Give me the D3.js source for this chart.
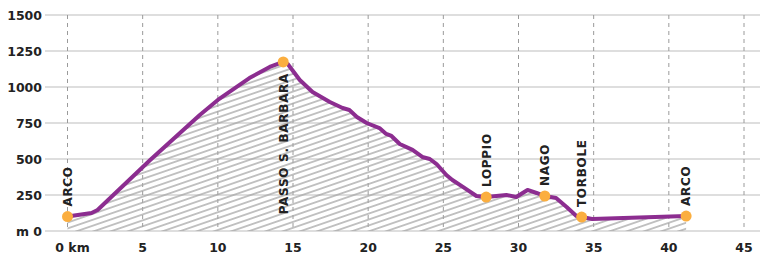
<!DOCTYPE html>
<html>
<head>
<meta charset="utf-8">
<script src="https://cdn.jsdelivr.net/npm/d3@7"></script>
<style>
  body { margin: 0; background: #fff; }
  svg text { font-family: "DejaVu Sans", sans-serif; font-weight: bold; fill: #222; }
</style>
</head>
<body>
<div class="chart"></div>
<script>
// elevation profile (km, metres)
var profileKm   = [0, 1.6, 2.0, 5.5, 8.8, 10.0, 12.1, 13.45, 14.35, 14.65, 15.45, 16.3, 17.45, 18.3, 18.75,
                   19.25, 19.9, 20.75, 21.2, 21.55, 22.1, 22.95, 23.6, 24.1, 24.55, 25.2, 25.6, 26.3, 27.2,
                   27.85, 29.2, 29.85, 30.6, 31.2, 31.75, 32.5, 33.2, 33.85, 34.2, 34.9, 41.15];
var profileElev = [100, 125, 146, 493, 806, 910, 1062, 1139, 1174, 1160, 1049, 965, 896, 854, 840,
                   792, 750, 715, 674, 660, 604, 563, 514, 500, 465, 389, 354, 306, 243,
                   236, 250, 236, 285, 264, 243, 229, 167, 104, 97, 83, 104];

var stopNames = ["ARCO", "PASSO S. BARBARA", "LOPPIO", "NAGO", "TORBOLE", "ARCO"];
var stopKm    = [0, 14.35, 27.85, 31.75, 34.2, 41.15];
var stopElev  = [100, 1174, 236, 243, 97, 104];

var xTicks = [0, 5, 10, 15, 20, 25, 30, 35, 40, 45];
var yTicks = [0, 250, 500, 750, 1000, 1250, 1500];

var width  = 760,
    height = 255;

var x = d3.scaleLinear().domain([0, 45]).range([67.5, 744]);
var y = d3.scaleLinear().domain([0, 1500]).range([231, 15]);

var svg = d3.select(".chart")
            .append("svg")
            .attr("width", width)
            .attr("height", height);

// hatch for the area under the profile
var pattern = svg.append("defs")
                 .append("pattern")
                 .attr("id", "hatch")
                 .attr("patternUnits", "userSpaceOnUse")
                 .attr("width", 12)
                 .attr("height", 5.6)
                 .attr("patternTransform", "rotate(-19)");
pattern.append("line")
       .attr("x1", 0).attr("x2", 12)
       .attr("y1", 2.8).attr("y2", 2.8)
       .attr("stroke", "#a4a4a4")
       .attr("stroke-width", 1.3);

// horizontal grid
svg.append("g")
   .selectAll("line")
   .data(yTicks)
   .enter()
   .append("line")
   .attr("x1", 45)
   .attr("x2", width)
   .attr("y1", function (d) { return y(d); })
   .attr("y2", function (d) { return y(d); })
   .attr("stroke", "#bdbdbd")
   .attr("stroke-width", 1);

// vertical dashed grid
svg.append("g")
   .selectAll("line")
   .data(xTicks)
   .enter()
   .append("line")
   .attr("x1", function (d) { return x(d); })
   .attr("x2", function (d) { return x(d); })
   .attr("y1", y(1500))
   .attr("y2", y(0))
   .attr("stroke", "#9a9a9a")
   .attr("stroke-width", 1)
   .attr("stroke-dasharray", "4,4");

var points = profileKm.map(function (d, i) { return [d, profileElev[i]]; });

var area = d3.area()
             .x(function (d) { return x(d[0]); })
             .y0(y(0))
             .y1(function (d) { return y(d[1]); });

var line = d3.line()
             .x(function (d) { return x(d[0]); })
             .y(function (d) { return y(d[1]); });

svg.append("path")
   .datum(points)
   .attr("d", area)
   .attr("fill", "url(#hatch)");

svg.append("path")
   .datum(points)
   .attr("d", line)
   .attr("fill", "none")
   .attr("stroke", "#8c2d90")
   .attr("stroke-width", 4)
   .attr("stroke-linejoin", "round")
   .attr("stroke-linecap", "round");

// y axis labels
svg.append("g")
   .selectAll("text")
   .data(yTicks)
   .enter()
   .append("text")
   .attr("x", 42)
   .attr("y", function (d) { return y(d); })
   .attr("dy", "0.36em")
   .attr("text-anchor", "end")
   .style("font-size", "12.5px")
   .text(function (d) { return d === 0 ? "m 0" : d; });

// x axis labels
svg.append("g")
   .selectAll("text")
   .data(xTicks)
   .enter()
   .append("text")
   .attr("x", function (d) { return d === 0 ? x(d) + 5 : x(d); })
   .attr("y", 247)
   .attr("dy", "0.36em")
   .attr("text-anchor", "middle")
   .style("font-size", "12.5px")
   .text(function (d) { return d === 0 ? "0 km" : d; });

// stop markers
svg.append("g")
   .selectAll("circle")
   .data(stopKm)
   .enter()
   .append("circle")
   .attr("cx", function (d) { return x(d); })
   .attr("cy", function (d, i) { return y(stopElev[i]); })
   .attr("r", 5.5)
   .attr("fill", "#fbae3f");

// stop names, rotated
svg.append("g")
   .selectAll("text")
   .data(stopNames)
   .enter()
   .append("text")
   .attr("transform", function (d, i) {
     var px = x(stopKm[i]);
     var py = i === 1 ? y(stopElev[i]) + 11 : y(stopElev[i]) - 10;
     return "translate(" + px + "," + py + ") rotate(-90)";
   })
   .attr("dy", "0.36em")
   .attr("text-anchor", function (d, i) { return i === 1 ? "end" : "start"; })
   .style("font-size", "12px")
   .style("letter-spacing", "0.7px")
   .text(function (d) { return d; });
</script>
</body>
</html>
